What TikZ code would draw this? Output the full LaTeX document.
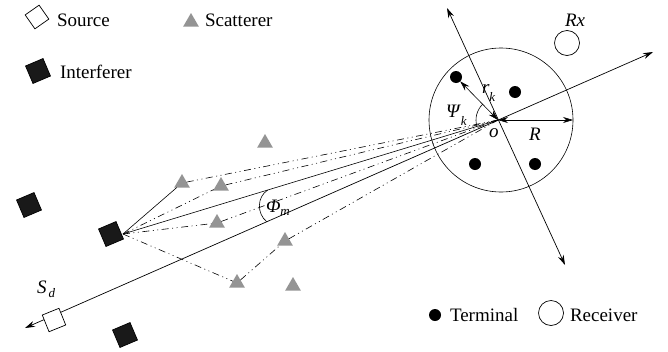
\documentclass[tikz,border=0pt]{standalone}
\usepackage{fontspec}
\setmainfont{Liberation Serif}
\usetikzlibrary{arrows.meta,shapes.geometric,calc}
\newcommand\subl[3]{\textit{#1}\raisebox{-#3}{\fontsize{13}{14}\selectfont\textit{#2}}}
\begin{document}
\begin{tikzpicture}[x=1pt,y=-1pt,line width=0.7pt,
  font=\rmfamily\fontsize{19}{22}\selectfont,
  every node/.style={inner sep=0pt,outer sep=0pt},
  tipboth/.style={{Stealth[length=10pt,width=6pt]}-{Stealth[length=10pt,width=6pt]}},
  srcsq/.style={draw,fill=white,minimum size=18pt,rotate=22,line width=0.7pt},
  intsq/.style={draw,fill=black!90,minimum size=19pt,rotate=23},
  scat/.style={regular polygon,regular polygon sides=3,fill=black!42,minimum size=18pt},
  term/.style={circle,fill=black,minimum size=12pt},
  rcv/.style={circle,draw,minimum size=25pt},
  ddot/.style={dash pattern=on 7pt off 3.5pt on 1pt off 3.5pt on 1pt off 3.5pt,line width=0.6pt},
  thin/.style={line width=0.6pt}]
\useasboundingbox (0,0) rectangle (668,351);

% legend
\node[srcsq,rotate=13,minimum size=17pt] (ls) at (37,17) {};
\node[anchor=base west] (lst) at (57,26) {Source};
\node[scat] (lsc) at (191,22) {};
\node[anchor=base west] (lsct) at (205,26) {Scatterer};
\node[intsq] (li) at (38,71) {};
\node[anchor=base west] (lit) at (60,78) {Interferer};
\node[term] (lt) at (435,315) {};
\node[anchor=base west] (ltt) at (450,321) {Terminal};
\node[rcv] (lr) at (551,313) {};
\node[anchor=base west] (lrt) at (570,321) {Receiver};

% receiver area
\node[circle,draw,minimum size=144pt,line width=0.6pt] (C) at (501,120) {};
\coordinate (O) at (498,120);
\node[term] (t1) at (456,77) {};
\node[term] (t2) at (515,92) {};
\node[term] (t3) at (475,164) {};
\node[term] (t4) at (535,164) {};
\node[rcv] (rx) at (567,43) {};
\node[anchor=base west] (rxl) at (565,26) {\textit{Rx}};

% interferers and source
\node[intsq] (i1) at (29,205) {};
\node[intsq] (i2) at (111,234) {};
\node[intsq] (i3) at (125,335) {};
\coordinate (ip) at (123,234);

% scatterers
\node[scat] (s1) at (182,183) {};
\node[scat] (s2) at (221,186) {};
\node[scat] (s3) at (217,223) {};
\node[scat] (s4) at (265,143) {};
\node[scat] (s5) at (285,241) {};
\node[scat] (s6) at (237,283) {};
\node[scat] (s7) at (293,286) {};

% paths
\draw[thin] (ip) -- (s1);
\draw[ddot] (s1) -- (O);
\draw[ddot] (ip) -- (s2) -- (O);
\draw[thin] (ip) -- (O);
\draw[ddot] (ip) -- (s3) -- (O);
\draw[ddot] (ip) -- (s6) -- (s5) -- (O);

% axes
\coordinate (a1) at (25,328);
\coordinate (a2) at (653,52);
\draw[tipboth] (a1) -- (a2);
\coordinate (b1) at (447,8);
\coordinate (b2) at (565,265);
\draw[tipboth] (b1) -- (b2);
\node[srcsq] (src) at (54,320) {};

% r_k, R
\draw[tipboth,line width=0.6pt] (t1) -- (O);
\draw[tipboth,line width=0.6pt] (O) -- (C.east);
\draw[thin] ($(O)+(163:22)$) arc[start angle=163,end angle=226,radius=22];
\coordinate (p1) at ($(ip)!0.386!(O)$);
\coordinate (p2) at ($(a1)!0.385!(a2)$);
\draw[thin] (p1) .. controls ($(p1)+(-11,7)$) and ($(p2)+(-10,-8)$) .. (p2);

% labels
\node[anchor=base west] (lR) at (529,140) {\textit{R}};
\node[anchor=base west] (lo) at (489,137) {\textit{o}};
\node[anchor=base west] (lrk) at (482,93) {\subl{r}{k}{8pt}};
\node[anchor=base west] (lpsi) at (446,117) {\subl{Ψ}{k}{8pt}};
\node[anchor=base west] (lphi) at (266,212) {\subl{Φ}{m}{3pt}};
\node[anchor=base west] (lsd) at (37,293) {\subl{S}{\,d}{4pt}};
\end{tikzpicture}
\end{document}
